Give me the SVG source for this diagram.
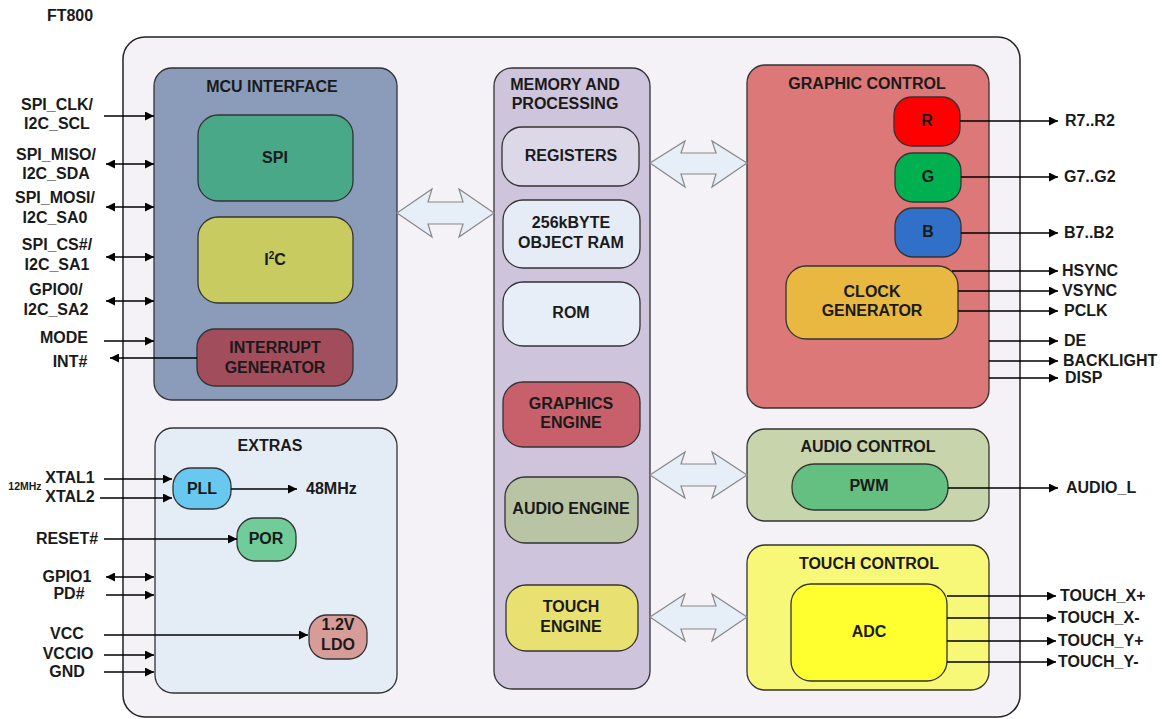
<svg xmlns="http://www.w3.org/2000/svg" width="1165" height="719" viewBox="0 0 1165 719">
<defs>
<marker id="ah" viewBox="0 0 10 10" refX="10" refY="5" markerWidth="9" markerHeight="9" markerUnits="userSpaceOnUse" orient="auto-start-reverse">
<path d="M0,0 L10,5 L0,10 z" fill="#000"/>
</marker>
<style>
text{font-family:"Liberation Sans",Arial,sans-serif;font-weight:bold;font-size:16px;fill:#1a1a1a}
.m{text-anchor:middle}
.s{text-anchor:start}
.blk{stroke:#333;stroke-width:1.3}
.w{stroke:#000;stroke-width:1.4;fill:none}
.a{marker-end:url(#ah)}
.b{marker-start:url(#ah);marker-end:url(#ah)}
.big{fill:#e6eef8;stroke:#888;stroke-width:1.2}
</style>
</defs>
<rect width="1165" height="719" fill="#fff"/>
<text x="70" y="21" class="m">FT800</text>
<rect id="chip" x="123" y="37" width="897" height="680" rx="22" fill="#f4f2f7" stroke="#222" stroke-width="1.5"/>

<g id="mcu-interface">
<rect x="154" y="68" width="243" height="332" rx="18" fill="#8a9cba" class="blk"/>
<text x="272" y="92" class="m">MCU INTERFACE</text>
</g>
<g id="spi"><rect x="198" y="115" width="155" height="86" rx="20" fill="#48a888" class="blk"/><text x="275" y="163" class="m">SPI</text></g>
<g id="i2c"><rect x="198" y="217" width="155" height="86" rx="20" fill="#c8cc60" class="blk"/><text x="275" y="265" class="m">I<tspan dy="-6" style="font-size:10px">2</tspan><tspan dy="6">C</tspan></text></g>
<g id="interrupt"><rect x="197" y="329" width="156" height="57" rx="18" fill="#a24d5c" class="blk"/><text x="275" y="353" class="m">INTERRUPT</text><text x="275" y="373" class="m">GENERATOR</text></g>

<g id="extras">
<rect x="155" y="428" width="242" height="265" rx="18" fill="#e4ecf6" class="blk"/>
<text x="270" y="451" class="m">EXTRAS</text>
</g>
<g id="pll"><rect x="173" y="468" width="58" height="41" rx="18" fill="#68c8f0" class="blk"/><text x="202" y="494" class="m">PLL</text></g>
<g id="por"><rect x="237" y="518" width="59" height="43" rx="18" fill="#70cc98" class="blk"/><text x="266" y="544" class="m">POR</text></g>
<g id="ldo"><rect x="309" y="615" width="58" height="44" rx="18" fill="#d89c98" class="blk"/><text x="338" y="630" class="m">1.2V</text><text x="338" y="650" class="m">LDO</text></g>

<g id="memory">
<rect x="494" y="68" width="156" height="621" rx="18" fill="#cec4dc" class="blk"/>
<text x="565" y="90" class="m">MEMORY AND</text>
<text x="565" y="109" class="m">PROCESSING</text>
</g>
<g id="registers"><rect x="502" y="127" width="137" height="59" rx="20" fill="#dcd8e8" class="blk"/><text x="571" y="161" class="m">REGISTERS</text></g>
<g id="ram"><rect x="503" y="200" width="137" height="68" rx="20" fill="#e6ecf6" class="blk"/><text x="571" y="228" class="m">256kBYTE</text><text x="571" y="248" class="m">OBJECT RAM</text></g>
<g id="rom"><rect x="503" y="282" width="137" height="64" rx="20" fill="#e8eef8" class="blk"/><text x="571" y="318" class="m">ROM</text></g>
<g id="graphics-engine"><rect x="503" y="382" width="137" height="65" rx="20" fill="#c8606c" class="blk"/><text x="571" y="409" class="m">GRAPHICS</text><text x="571" y="428" class="m">ENGINE</text></g>
<g id="audio-engine"><rect x="505" y="477" width="133" height="66" rx="20" fill="#b8c4a4" class="blk"/><text x="571" y="514" class="m">AUDIO ENGINE</text></g>
<g id="touch-engine"><rect x="506" y="585" width="132" height="66" rx="20" fill="#e8e070" class="blk"/><text x="571" y="612" class="m">TOUCH</text><text x="571" y="632" class="m">ENGINE</text></g>

<g id="graphic-control">
<rect x="747" y="65" width="242" height="343" rx="18" fill="#dc7878" class="blk"/>
<text x="867" y="89" class="m">GRAPHIC CONTROL</text>
</g>
<g id="r"><rect x="894" y="97" width="66" height="49" rx="18" fill="#ff0000" class="blk"/><text x="927" y="126" class="m">R</text></g>
<g id="g"><rect x="895" y="153" width="66" height="49" rx="18" fill="#00b050" class="blk"/><text x="928" y="182" class="m">G</text></g>
<g id="b"><rect x="895" y="208" width="66" height="49" rx="18" fill="#3070c8" class="blk"/><text x="928" y="237" class="m">B</text></g>
<g id="clock"><rect x="786" y="266" width="172" height="73" rx="20" fill="#e8b840" class="blk"/><text x="872" y="297" class="m">CLOCK</text><text x="872" y="316" class="m">GENERATOR</text></g>

<g id="audio-control">
<rect x="747" y="429" width="242" height="92" rx="18" fill="#c8d4ac" class="blk"/>
<text x="868" y="452" class="m">AUDIO CONTROL</text>
</g>
<g id="pwm"><rect x="792" y="464" width="156" height="46" rx="22" fill="#64c080" class="blk"/><text x="869" y="491" class="m">PWM</text></g>

<g id="touch-control">
<rect x="747" y="545" width="242" height="145" rx="18" fill="#f8f878" class="blk"/>
<text x="869" y="569" class="m">TOUCH CONTROL</text>
</g>
<g id="adc"><rect x="791" y="584" width="156" height="97" rx="20" fill="#ffff30" class="blk"/><text x="869" y="637" class="m">ADC</text></g>

<g id="connectors">
<polygon class="big" points="397,213 432,189 428,202 463,202 459,189 494,213 459,237 463,224 428,224 432,237"/>
<polygon class="big" points="650,163 685,141 681,153 716,153 712,141 747,163 712,187 716,174 681,174 685,187"/>
<polygon class="big" points="650,475 685,452 681,464 716,464 712,452 747,475 712,498 716,486 681,486 685,498"/>
<polygon class="big" points="650,617 685,594 681,606 716,606 712,594 747,617 712,641 716,629 681,629 685,641"/>

<line class="w a" x1="104" y1="116" x2="154" y2="116"/>
<line class="w b" x1="106" y1="164" x2="154" y2="164"/>
<line class="w b" x1="106" y1="207" x2="154" y2="207"/>
<line class="w b" x1="106" y1="257" x2="154" y2="257"/>
<line class="w b" x1="106" y1="301" x2="154" y2="301"/>
<line class="w a" x1="104" y1="341" x2="154" y2="341"/>
<line class="w a" x1="197" y1="358" x2="110" y2="358"/>

<line class="w a" x1="104" y1="479" x2="172" y2="479"/>
<line class="w a" x1="100" y1="498" x2="172" y2="498"/>
<line class="w a" x1="231" y1="489" x2="297" y2="489"/>
<line class="w a" x1="104" y1="539" x2="237" y2="539"/>
<line class="w b" x1="106" y1="577" x2="154" y2="577"/>
<line class="w a" x1="106" y1="595" x2="154" y2="595"/>
<line class="w a" x1="104" y1="635" x2="308" y2="635"/>
<line class="w a" x1="104" y1="655" x2="154" y2="655"/>
<line class="w a" x1="104" y1="672" x2="154" y2="672"/>

<line class="w a" x1="960" y1="121" x2="1058" y2="121"/>
<line class="w a" x1="961" y1="177" x2="1058" y2="177"/>
<line class="w a" x1="961" y1="233" x2="1058" y2="233"/>
<line class="w a" x1="952" y1="271" x2="1058" y2="271"/>
<line class="w a" x1="958" y1="291" x2="1058" y2="291"/>
<line class="w a" x1="958" y1="311" x2="1058" y2="311"/>
<line class="w a" x1="989" y1="341" x2="1058" y2="341"/>
<line class="w a" x1="989" y1="361" x2="1058" y2="361"/>
<line class="w a" x1="989" y1="378" x2="1058" y2="378"/>
<line class="w a" x1="948" y1="488" x2="1058" y2="488"/>
<line class="w a" x1="947" y1="596" x2="1056" y2="596"/>
<line class="w a" x1="947" y1="618" x2="1056" y2="618"/>
<line class="w a" x1="947" y1="641" x2="1056" y2="641"/>
<line class="w a" x1="947" y1="662" x2="1056" y2="662"/>
</g>

<g id="pin-labels">
<text x="57" y="110" class="m">SPI_CLK/</text>
<text x="57" y="129" class="m">I2C_SCL</text>
<text x="56" y="160" class="m">SPI_MISO/</text>
<text x="56" y="179" class="m">I2C_SDA</text>
<text x="55" y="203" class="m">SPI_MOSI/</text>
<text x="55" y="223" class="m">I2C_SA0</text>
<text x="57" y="250" class="m">SPI_CS#/</text>
<text x="57" y="270" class="m">I2C_SA1</text>
<text x="56" y="295" class="m">GPIO0/</text>
<text x="56" y="315" class="m">I2C_SA2</text>
<text x="64" y="343" class="m">MODE</text>
<text x="70" y="367" class="m">INT#</text>
<text x="70" y="483" class="m">XTAL1</text>
<text x="70" y="502" class="m">XTAL2</text>
<text x="25" y="490" class="m" style="font-size:10.5px">12MHz</text>
<text x="306" y="494" class="s">48MHz</text>
<text x="67" y="544" class="m">RESET#</text>
<text x="67" y="582" class="m">GPIO1</text>
<text x="69" y="599" class="m">PD#</text>
<text x="67" y="639" class="m">VCC</text>
<text x="68" y="659" class="m">VCCIO</text>
<text x="67" y="677" class="m">GND</text>
<text x="1065" y="126" class="s">R7..R2</text>
<text x="1064" y="182" class="s">G7..G2</text>
<text x="1064" y="238" class="s">B7..B2</text>
<text x="1062" y="276" class="s">HSYNC</text>
<text x="1062" y="296" class="s">VSYNC</text>
<text x="1064" y="316" class="s">PCLK</text>
<text x="1064" y="346" class="s">DE</text>
<text x="1063" y="366" class="s">BACKLIGHT</text>
<text x="1065" y="383" class="s">DISP</text>
<text x="1066" y="493" class="s">AUDIO_L</text>
<text x="1060" y="601" class="s">TOUCH_X+</text>
<text x="1058" y="623" class="s">TOUCH_X-</text>
<text x="1058" y="646" class="s">TOUCH_Y+</text>
<text x="1058" y="667" class="s">TOUCH_Y-</text>
</g>
</svg>
